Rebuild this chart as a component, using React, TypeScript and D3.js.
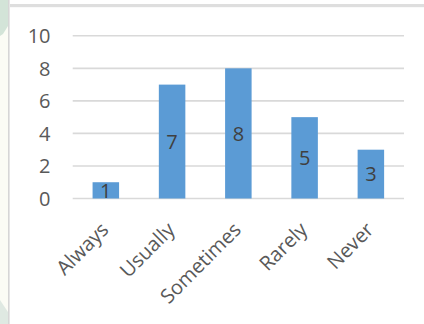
import React from "react";
import * as d3 from "d3";

// Survey response frequencies
const categories = ["Always", "Usually", "Sometimes", "Rarely", "Never"];
const counts = [1, 7, 8, 5, 3];
const yTicks = [0, 2, 4, 6, 8, 10];

const W = 424;
const H = 324;
const FONT = "'Open Sans', 'DejaVu Sans', sans-serif";

export default function App() {
  const x = d3
    .scaleBand<string>()
    .domain(categories)
    .range([72.7, 404])
    .paddingInner(0.6)
    .paddingOuter(0.3);
  const y = d3.scaleLinear().domain([0, 10]).range([198.5, 35.8]);

  return (
    <svg
      width={W}
      height={H}
      style={{ position: "absolute", left: 0, top: 0, background: "#ffffff" }}
      fontFamily={FONT}
    >
      {/* page margin strip on the left */}
      <rect x={0} y={0} width={8} height={H} fill="#fbfcf5" />
      <path d="M0,0 L8,0 L8,26 L3,34 L0,36 Z" fill="#d3e4d8" />
      <path d="M0,300 L8,312 L8,324 L0,324 Z" fill="#dfe9e2" />
      <rect x={8} y={0} width={1.6} height={H} fill="#d6d6d6" />
      <rect x={10} y={4} width={W - 10} height={3.2} fill="#dedede" />

      {/* horizontal gridlines */}
      {yTicks.map((t) => (
        <line
          key={`g${t}`}
          x1={72.7}
          x2={404}
          y1={y(t)}
          y2={y(t)}
          stroke="#d9d9d9"
          strokeWidth={1.6}
        />
      ))}

      {/* y-axis tick labels */}
      {yTicks.map((t) => (
        <text
          key={`t${t}`}
          x={50.5}
          y={y(t)}
          dy="0.36em"
          textAnchor="end"
          fontSize={20}
          fill="#595959"
        >
          {t}
        </text>
      ))}

      {/* bars */}
      {categories.map((c, i) => (
        <rect
          key={`b${c}`}
          x={x(c)!}
          y={y(counts[i])}
          width={x.bandwidth()}
          height={y(0) - y(counts[i])}
          fill="#5b9bd5"
        />
      ))}

      {/* value labels centred in each bar */}
      {categories.map((c, i) => (
        <text
          key={`v${c}`}
          x={x(c)! + x.bandwidth() / 2}
          y={(y(counts[i]) + y(0)) / 2}
          dy="0.36em"
          textAnchor="middle"
          fontSize={20}
          fill="#404040"
        >
          {counts[i]}
        </text>
      ))}

      {/* rotated category labels */}
      {categories.map((c) => (
        <text
          key={`c${c}`}
          transform={`translate(${x(c)! + x.bandwidth() / 2 + 4},${231}) rotate(-45)`}
          textAnchor="end"
          fontSize={20}
          fill="#595959"
        >
          {c}
        </text>
      ))}
    </svg>
  );
}
